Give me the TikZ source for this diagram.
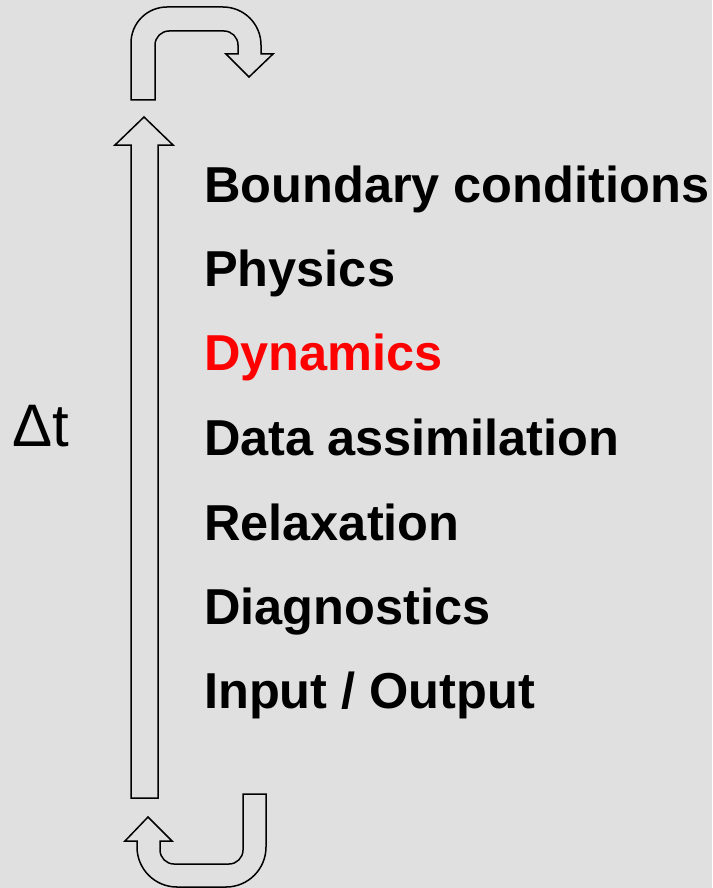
\documentclass[tikz,border=0pt]{standalone}
\usepackage{fontspec}
\setmainfont{Liberation Sans}
\definecolor{CycleBack}{HTML}{E0E0E0}
\definecolor{CycleRed}{HTML}{FF0000}
\begin{document}
\begin{tikzpicture}[x=1pt,y=-1pt,
    stage/.style={anchor=base west,inner sep=0pt,
      font=\bfseries\fontsize{50.5}{60}\selectfont},
    blockarrow/.style={draw=black,line width=1.5pt,line join=miter}]
  \fill[CycleBack] (0,0) rectangle (712,888);
  \useasboundingbox (0,0) rectangle (712,888);

  % main time step arrow
  \draw[blockarrow]
    (131,798) -- (131,145) -- (115,145) -- (144,117) -- (173,145)
    -- (158,145) -- (158,798) -- cycle;

  % bent arrow at the top
  \draw[blockarrow]
    (131,100) -- (131,43) .. controls (131,23.1) and (147.1,7) .. (167,7)
    -- (223,7) .. controls (244,7) and (261,24) .. (261,45)
    -- (261,54) -- (273,54) -- (249,77) -- (226,54) -- (238,54)
    -- (238,45) .. controls (238,37.3) and (231.7,31) .. (224,31)
    -- (169,31) .. controls (161.3,31) and (155,37.3) .. (155,45)
    -- (155,100) -- cycle;

  % u-turn arrow at the bottom
  \draw[blockarrow]
    (243,794) -- (266,794) -- (266,847)
    .. controls (266,869.1) and (248.1,887) .. (226,887)
    -- (177,887) .. controls (154.9,887) and (137,869.1) .. (137,847)
    -- (137,841) -- (125,841) -- (148,817) -- (172,841) -- (160,841)
    -- (160,850) .. controls (160,857.7) and (166.3,864) .. (174,864)
    -- (229,864) .. controls (236.7,864) and (243,857.7) .. (243,850)
    -- cycle;

  \node[anchor=base west,inner sep=0pt,
    font=\fontsize{60}{70}\selectfont] (dt) at (12,446) {Δt};

  \node[stage] (bc) at (204,202) {Boundary conditions};
  \node[stage] (phys) at (204,286) {Physics};
  \node[stage,text=CycleRed] (dyn) at (204,370) {Dynamics};
  \node[stage] (da) at (204,455) {Data assimilation};
  \node[stage] (relax) at (204,540) {Relaxation};
  \node[stage] (diag) at (204,624) {Diagnostics};
  \node[stage] (io) at (204,708) {Input / Output};
\end{tikzpicture}
\end{document}
